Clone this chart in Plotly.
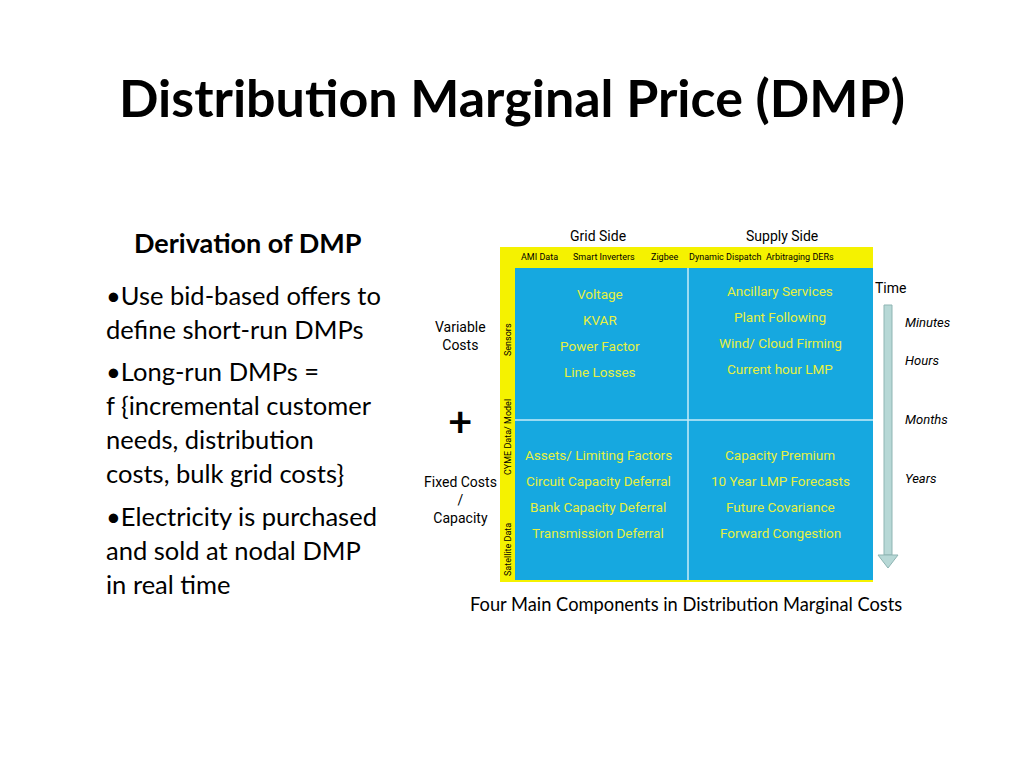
import plotly.graph_objects as go

title = "Distribution Marginal Price (DMP)"
subhead = "Derivation of DMP"
bullets = ["•Use bid-based offers to", "define short-run DMPs", "•Long-run DMPs =",
           "f {incremental customer", "needs, distribution", "costs, bulk grid costs}",
           "•Electricity is purchased", "and sold at nodal DMP", "in real time"]
bullet_y = [295, 329, 371, 405, 439, 473, 516, 550, 584]
caption = "Four Main Components in Distribution Marginal Costs"

top_labels = ["AMI Data", "Smart Inverters", "Zigbee", "Dynamic Dispatch", "Arbitraging DERs"]
top_x = [539, 604, 664, 725, 800]
q_tl = ["Voltage", "KVAR", "Power Factor", "Line Losses"]
q_tr = ["Ancillary Services", "Plant Following", "Wind/ Cloud Firming", "Current hour LMP"]
q_bl = ["Assets/ Limiting Factors", "Circuit Capacity Deferral", "Bank Capacity Deferral", "Transmission Deferral"]
q_br = ["Capacity Premium", "10 Year LMP Forecasts", "Future Covariance", "Forward Congestion"]
row_top = [294, 320, 346, 372]
row_bot = [455, 481, 507, 533]
time_labels = ["Minutes", "Hours", "Months", "Years"]
time_y = [322, 360, 419, 478]

F = "Lato"
dia = "Roboto"
fig = go.Figure()
ann = []
shapes = []

def txt(x, y, t, size, color="black", bold=False, italic=False, anchor="center", angle=0, fam=F):
    if bold:
        t = "<b>" + t + "</b>"
    if italic:
        t = "<i>" + t + "</i>"
    ann.append(dict(x=x, y=y, text=t, showarrow=False, xanchor=anchor, yanchor="middle",
                    textangle=angle, font=dict(family=fam, size=size, color=color)))

txt(512, 97, title, 52, bold=True)
txt(248, 242, subhead, 27, bold=True)
for t, y in zip(bullets, bullet_y):
    txt(104, y, t, 25.5, anchor="left")
txt(686, 604, caption, 18.3)

# diagram frame
shapes.append(dict(type="rect", x0=500, y0=247, x1=873, y1=582, fillcolor="#f5f200", line_width=0))
shapes.append(dict(type="rect", x0=515, y0=268, x1=873, y1=580, fillcolor="#16a8e0", line_width=0))
shapes.append(dict(type="line", x0=688, y0=268, x1=688, y1=580, line=dict(color="#c8ecf8", width=1.5)))
shapes.append(dict(type="line", x0=515, y0=420, x1=873, y1=420, line=dict(color="#c8ecf8", width=1.5)))
# time arrow
shapes.append(dict(type="rect", x0=884, y0=305, x1=892, y1=555, fillcolor="#b7d8d6", line=dict(color="#8fb5b3", width=1)))
shapes.append(dict(type="path", path="M 878 555 L 898 555 L 888 568 Z", fillcolor="#b7d8d6", line=dict(color="#8fb5b3", width=1)))

txt(598, 236, "Grid Side", 14, fam=dia)
txt(782, 236, "Supply Side", 14, fam=dia)
for t, x in zip(top_labels, top_x):
    txt(x, 257, t, 9, fam=dia)
for t, y in zip(q_tl, row_top):
    txt(600, y, t, 13.5, color="#e6f040", fam=dia)
for t, y in zip(q_tr, row_top):
    txt(780, y - 3, t, 13.5, color="#e6f040", fam=dia)
for t, y in zip(q_bl, row_bot):
    txt(598, y, t, 13.5, color="#e6f040", fam=dia)
for t, y in zip(q_br, row_bot):
    txt(780, y, t, 13.5, color="#e6f040", fam=dia)
txt(508, 340, "Sensors", 9, fam=dia, angle=-90)
txt(508, 437, "CYME Data/ Model", 9, fam=dia, angle=-90)
txt(508, 550, "Satellite Data", 9, fam=dia, angle=-90)

txt(460, 336, "Variable<br>Costs", 14, fam=dia)
txt(460, 421, "+", 42, bold=True)
txt(460, 500, "Fixed Costs<br>/<br>Capacity", 14, fam=dia)
txt(890, 288, "Time", 14, fam=dia)
for t, y in zip(time_labels, time_y):
    txt(903, y, t, 13, italic=True, anchor="left", fam=dia)

# page body has an 8px margin; shift the ranges to compensate
fig.update_layout(width=1024, height=768, margin=dict(l=0, r=0, t=0, b=0),
                  plot_bgcolor="white", paper_bgcolor="white",
                  xaxis=dict(range=[8, 1032], visible=False),
                  yaxis=dict(range=[776, 8], visible=False),
                  annotations=ann, shapes=shapes, showlegend=False)
fig.write_html("out.html")
